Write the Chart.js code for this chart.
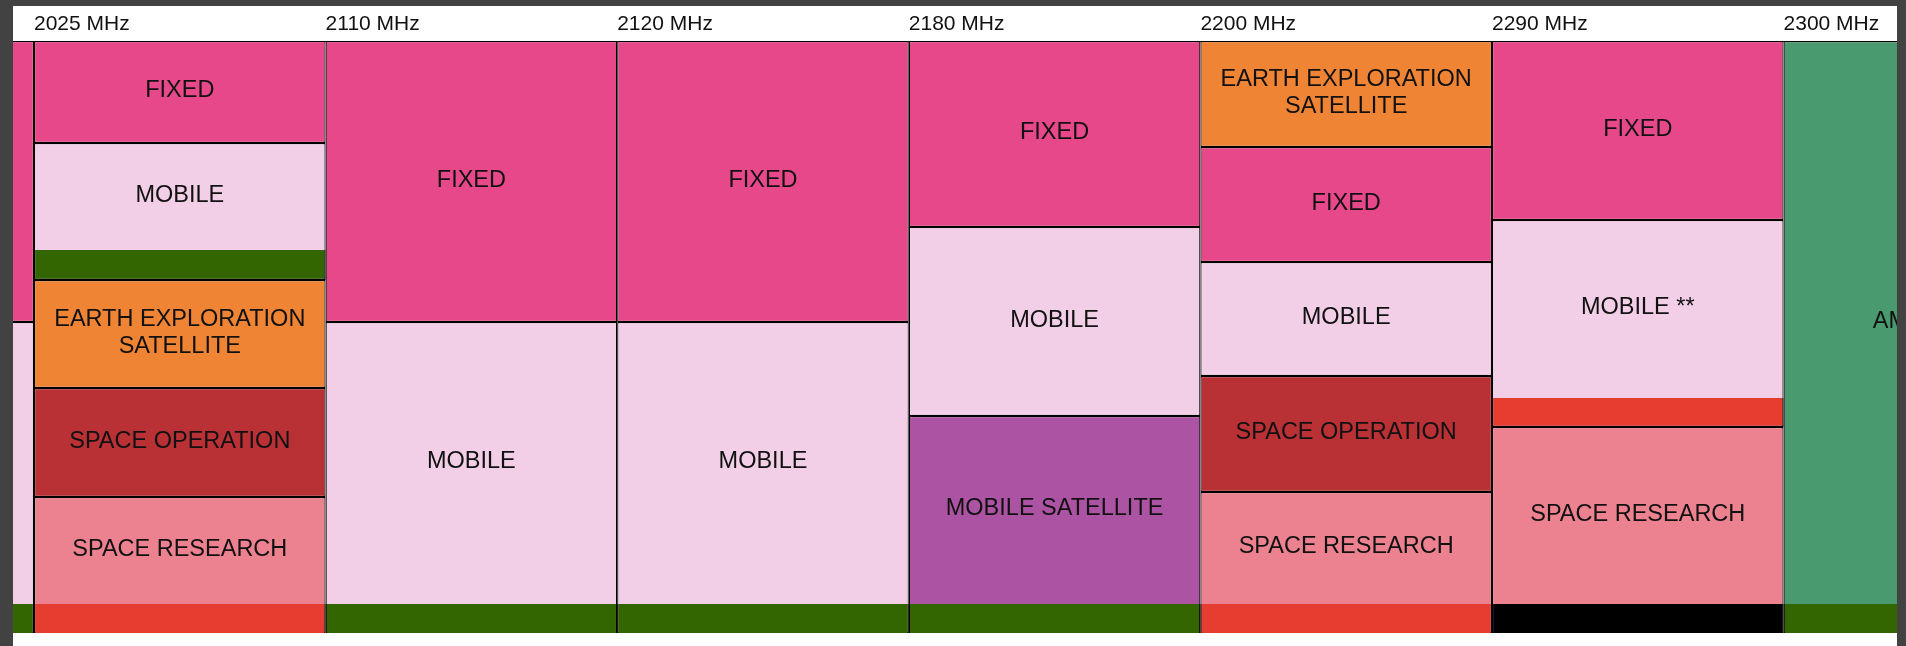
<!DOCTYPE html>
<html>
<head>
<meta charset="utf-8">
<script src="https://cdn.jsdelivr.net/npm/chart.js@4.4.0/dist/chart.umd.min.js"></script>
<style>
  html, body { margin: 0; padding: 0; background: #424242; width: 1906px; height: 646px; overflow: hidden; }
  #wrap { position: absolute; left: 13px; top: 6px; width: 1884px; height: 640px; background: #fff; }
</style>
</head>
<body>
<div id="wrap"><canvas id="chart"></canvas></div>
<script>
// band edges along the top
var freqEdges = [0, 1, 2, 3, 4, 5, 6];
var freqLabels = ['2025 MHz', '2110 MHz', '2120 MHz', '2180 MHz', '2200 MHz', '2290 MHz', '2300 MHz'];

// allocation blocks, column 0 = sliver below 2025 MHz, column 7 = above 2300 MHz
// top / bottom in chart units, 0 = top of the chart
var blockCol = [0, 0, 1, 1, 1, 1, 1, 2, 2, 3, 3, 4, 4, 4, 5, 5, 5, 5, 5, 6, 6, 6, 7];
var blockLabel = [
  'FIXED', 'MOBILE',
  'FIXED', 'MOBILE', 'EARTH EXPLORATION\nSATELLITE', 'SPACE OPERATION', 'SPACE RESEARCH',
  'FIXED', 'MOBILE',
  'FIXED', 'MOBILE',
  'FIXED', 'MOBILE', 'MOBILE SATELLITE',
  'EARTH EXPLORATION\nSATELLITE', 'FIXED', 'MOBILE', 'SPACE OPERATION', 'SPACE RESEARCH',
  'FIXED', 'MOBILE **', 'SPACE RESEARCH',
  'AMATEUR'
];
var blockTop =    [0, 281,   0, 102, 239, 347, 456,   0, 281,   0, 281,   0, 186, 375,   0, 106, 221, 335, 451,   0, 179, 386,   0];
var blockBottom = [281, 592, 102, 239, 347, 456, 592, 281, 592, 281, 592, 186, 375, 592, 106, 221, 335, 451, 592, 179, 386, 592, 592];

// thin marker bars inside a block
var noteCol = [1, 6];
var noteTop = [209, 357];
var noteBottom = [239, 386];
var noteKind = ['green', 'red'];

// strip along the bottom of every column
var stripCol = [0, 1, 2, 3, 4, 5, 6, 7];
var stripTop = [563, 563, 563, 563, 563, 563, 563, 563];
var stripBottom = [592, 592, 592, 592, 592, 592, 592, 592];
var stripKind = ['green', 'red', 'green', 'green', 'green', 'red', 'black', 'green'];

var serviceColors = {
  'FIXED': '#e74889',
  'MOBILE': '#f2cfe7',
  'EARTH EXPLORATION SATELLITE': '#ee8434',
  'SPACE OPERATION': '#b93035',
  'SPACE RESEARCH': '#ec818f',
  'MOBILE SATELLITE': '#ac53a4',
  'AMATEUR': '#4a9a70'
};
var kindColors = { green: '#336600', red: '#e63d31', black: '#000000' };

function serviceOf(label) {
  return label.replace('\n', ' ').replace(' **', '');
}

function bars(cols, tops, bottoms) {
  return cols.map(function (c, i) { return { x: c - 0.5, y: [tops[i], bottoms[i]] }; });
}

var common = { grouped: false, barPercentage: 1, categoryPercentage: 1, clip: 0, inflateAmount: 0, borderSkipped: false, borderColor: '#000' };

// write the service names into the blocks
var blockLabels = {
  id: 'blockLabels',
  afterDatasetsDraw: function (chart) {
    var ctx = chart.ctx, area = chart.chartArea, y = chart.scales.y;
    var meta = chart.getDatasetMeta(2);
    ctx.save();
    ctx.beginPath();
    ctx.rect(area.left, area.top, area.right - area.left, area.bottom - area.top);
    ctx.clip();
    ctx.fillStyle = '#111';
    ctx.font = '23.5px "Liberation Sans", Arial, sans-serif';
    ctx.textAlign = 'center';
    ctx.textBaseline = 'middle';
    meta.data.forEach(function (bar, i) {
      var top = blockTop[i], bottom = blockBottom[i];
      // skip the part covered by marker bars
      noteCol.concat(stripCol).forEach(function (c, j) {
        var t = j < noteCol.length ? noteTop[j] : stripTop[j - noteCol.length];
        if (c === blockCol[i] && t > top && t < bottom) bottom = t;
      });
      var cy = (y.getPixelForValue(top) + y.getPixelForValue(bottom)) / 2 - 1;
      var lines = blockLabel[i].split('\n');
      lines.forEach(function (t, k) {
        ctx.fillText(t, bar.x, cy + (k - (lines.length - 1) / 2) * 27);
      });
    });
    ctx.restore();
  }
};

new Chart(document.getElementById('chart'), {
  type: 'bar',
  data: {
    datasets: [
      Object.assign({}, common, {
        label: 'strip',
        data: bars(stripCol, stripTop, stripBottom),
        backgroundColor: function (c) { return kindColors[stripKind[c.dataIndex]]; },
        borderWidth: { top: 0, bottom: 0, left: 1.2, right: 1.2 }
      }),
      Object.assign({}, common, {
        label: 'notes',
        data: bars(noteCol, noteTop, noteBottom),
        backgroundColor: function (c) { return kindColors[noteKind[c.dataIndex]]; },
        borderWidth: { top: 0, bottom: 1.2, left: 1.2, right: 1.2 }
      }),
      Object.assign({}, common, {
        label: 'blocks',
        data: bars(blockCol, blockTop, blockBottom),
        backgroundColor: function (c) { return serviceColors[serviceOf(blockLabel[c.dataIndex])]; },
        borderWidth: 1.2
      })
    ]
  },
  options: {
    animation: false,
    responsive: true,
    maintainAspectRatio: false,
    layout: { padding: { left: 0, right: 0, top: 0, bottom: 13 } },
    plugins: { legend: { display: false }, tooltip: { enabled: false } },
    scales: {
      x: {
        type: 'linear',
        position: 'top',
        min: -0.072,
        max: 6.389,
        offset: false,
        grid: { display: false, drawTicks: false },
        border: { display: true, color: '#333', width: 1 },
        afterBuildTicks: function (s) { s.ticks = freqEdges.map(function (v) { return { value: v }; }); },
        afterFit: function (s) { s.height = 35; },
        ticks: {
          align: 'start',
          padding: 4,
          maxRotation: 0,
          autoSkip: false,
          color: '#111',
          font: { family: '"Liberation Sans", Arial, sans-serif', size: 21 },
          callback: function (v, i) { return freqLabels[i]; }
        }
      },
      y: { type: 'linear', display: false, reverse: true, min: 0, max: 592 }
    }
  },
  plugins: [blockLabels]
});
</script>
</body>
</html>
